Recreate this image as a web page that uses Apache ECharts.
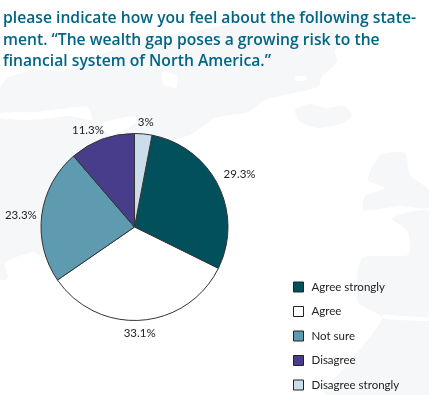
<!DOCTYPE html>
<html>
<head>
<meta charset="utf-8">
<style>html,body{margin:0;padding:0;background:#fff}#chart{width:429px;height:395px}</style>
<script src="https://cdn.jsdelivr.net/npm/echarts@6/dist/echarts.min.js"></script>
</head>
<body>
<div id="chart"></div>
<script>
const titleLines = [
  'please indicate how you feel about the following state-',
  'ment. \u201CThe wealth gap poses a growing risk to the',
  'financial system of North America.\u201D',
];
const categories = ['Agree strongly', 'Agree', 'Not sure', 'Disagree', 'Disagree strongly'];
const values = [29.3, 33.1, 23.3, 11.3, 3];
const sliceColors = ['#01505b', '#ffffff', '#5f9bb0', '#483d8b', '#c9deea'];
// nudges of the percent labels from where the pie puts them
const labelNudges = [[-5, -8], [-23, 7], [6, 1], [9, -3], [-11, -6]];

// faint map behind the chart
const landShapes = [
  [[0,88],[8,78],[33,70],[70,70],[107,52],[150,40],[200,30],[300,12],[366,12],[366,26],[335,50],[337,62],[322,77],[318,87],[265,100],[248,112],[215,118],[190,135],[140,150],[60,200],[45,258],[33,252],[5,263],[8,278],[0,280]],
  [[295,110],[310,104],[325,108],[345,106],[352,116],[340,124],[318,128],[300,122]],
  [[368,180],[380,155],[405,153],[410,175],[429,190],[429,208],[400,206],[385,208],[363,210],[365,196],[385,188]],
  [[392,218],[429,212],[429,395],[325,395],[358,352],[382,318],[358,302],[362,258],[408,255],[408,232]],
];
const waterShapes = [
  [[0,113],[35,112],[87,107],[92,120],[70,116],[30,120],[0,118]],
  [[163,72],[177,76],[176,88],[163,84]],
  [[295,77],[306,76],[306,80],[296,81]],
  [[382,315],[429,318],[429,321],[385,319]],
  [[100,124],[135,116],[135,124],[110,135]],
];

const myChart = echarts.init(document.getElementById('chart'));

myChart.setOption({
  animation: false,
  backgroundColor: '#ffffff',
  graphic: [
    ...landShapes.map((points) => ({
      type: 'polygon',
      silent: true,
      z: -2,
      shape: { points, smooth: 0.2 },
      style: { fill: '#f5f7f9' },
    })),
    ...waterShapes.map((points) => ({
      type: 'polygon',
      silent: true,
      z: -1,
      shape: { points, smooth: 0.2 },
      style: { fill: '#ffffff' },
    })),
  ],
  title: titleLines.map((text, i) => ({
    text,
    left: 3,
    top: 11 + i * 21.5,
    padding: 0,
    textStyle: {
      color: '#006684',
      fontFamily: 'Open Sans',
      fontWeight: 600,
      fontSize: 15.7,
    },
  })),
  legend: {
    orient: 'vertical',
    left: 293,
    top: 281,
    padding: 0,
    itemWidth: 10,
    itemHeight: 10,
    itemGap: 12.5,
    icon: 'rect',
    data: categories,
    selectedMode: false,
    itemStyle: { borderColor: '#222222', borderWidth: 1 },
    textStyle: {
      color: '#222222',
      fontFamily: 'Lato',
      fontSize: 11.5,
      padding: [0, 0, 0, 3],
    },
  },
  series: [
    {
      type: 'pie',
      center: [134.5, 227],
      radius: [0, 93.5],
      startAngle: 79.2,
      clockwise: true,
      data: categories.map((name, i) => ({
        name,
        value: values[i],
        itemStyle: { color: sliceColors[i] },
      })),
      itemStyle: { borderColor: '#333333', borderWidth: 1 },
      label: {
        position: 'outside',
        formatter: (p) => p.value + '%',
        color: '#222222',
        fontFamily: 'Lato',
        fontSize: 11.5,
        overflow: 'none',
      },
      labelLine: { show: false, length: 6, length2: 0 },
      labelLayout: (p) => ({
        dx: labelNudges[p.dataIndex][0],
        dy: labelNudges[p.dataIndex][1],
      }),
      emphasis: { disabled: true },
    },
  ],
});
</script>
</body>
</html>
